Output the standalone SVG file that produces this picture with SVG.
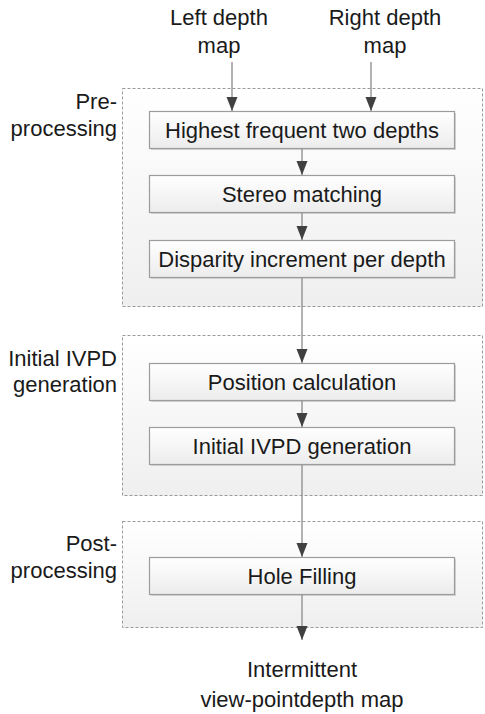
<svg xmlns="http://www.w3.org/2000/svg" width="485" height="714" viewBox="0 0 485 714">
<style>
text{font-family:"Liberation Sans",Arial,sans-serif;font-size:22px;fill:#1a1a1a}
.c{text-anchor:middle}
.r{text-anchor:end}
.grp{fill:url(#gg);stroke:#9a9a9a;stroke-width:1;stroke-dasharray:3,2}
.box{fill:url(#bg);stroke:#9c9c9c;stroke-width:1.2}
.sh{fill:#d4d4d4}
.ln{stroke:#8a8a8a;stroke-width:1.3;fill:none;marker-end:url(#ah)}
</style>
<defs>
<linearGradient id="gg" x1="0" y1="0" x2="0" y2="1"><stop offset="0" stop-color="#ffffff"/><stop offset="1" stop-color="#efefef"/></linearGradient>
<linearGradient id="bg" x1="0" y1="0" x2="0" y2="1"><stop offset="0" stop-color="#ffffff"/><stop offset="1" stop-color="#ececec"/></linearGradient>
<marker id="ah" markerUnits="userSpaceOnUse" markerWidth="14" markerHeight="12" refX="14" refY="5.5" orient="auto"><path d="M0,0 L14,5.5 L0,11 Z" fill="#404040"/></marker>
</defs>
<rect width="485" height="714" fill="#ffffff"/>
<g id="group-pre"><rect class="grp" x="122.5" y="88.5" width="360" height="218"/><text class="r" x="117" y="109">Pre-</text><text class="r" x="117" y="136">processing</text></g>
<g id="group-ivpd"><rect class="grp" x="122.5" y="335.5" width="360" height="160"/><text class="r" x="117" y="366">Initial IVPD</text><text class="r" x="117" y="392">generation</text></g>
<g id="group-post"><rect class="grp" x="122.5" y="521.5" width="360" height="106"/><text class="r" x="117" y="551">Post-</text><text class="r" x="117" y="578">processing</text></g>
<g id="in-left"><text class="c" x="219" y="25">Left depth</text><text class="c" x="219" y="53">map</text></g>
<g id="in-right"><text class="c" x="385" y="25">Right depth</text><text class="c" x="385" y="53">map</text></g>
<g id="n1"><rect class="sh" x="151" y="113" width="305" height="37"/><rect class="box" x="149.5" y="111.5" width="305" height="37"/><text class="c" x="302" y="137.5">Highest frequent two depths</text></g>
<g id="n2"><rect class="sh" x="151" y="177" width="305" height="37"/><rect class="box" x="149.5" y="175.5" width="305" height="37"/><text class="c" x="302" y="201.5">Stereo matching</text></g>
<g id="n3"><rect class="sh" x="151" y="242" width="305" height="37"/><rect class="box" x="149.5" y="240.5" width="305" height="37"/><text class="c" x="302" y="266.5">Disparity increment per depth</text></g>
<g id="n4"><rect class="sh" x="151" y="365" width="305" height="37"/><rect class="box" x="149.5" y="363.5" width="305" height="37"/><text class="c" x="302" y="389.5">Position calculation</text></g>
<g id="n5"><rect class="sh" x="151" y="429" width="305" height="37"/><rect class="box" x="149.5" y="427.5" width="305" height="37"/><text class="c" x="302" y="453.5">Initial IVPD generation</text></g>
<g id="n6"><rect class="sh" x="151" y="559" width="305" height="37"/><rect class="box" x="149.5" y="557.5" width="305" height="37"/><text class="c" x="302" y="583.5">Hole Filling</text></g>
<g id="out"><text class="c" x="302" y="677">Intermittent</text><text class="c" x="302" y="707">view-pointdepth map</text></g>
<g id="connectors">
<path class="ln" d="M232,62 V111"/>
<path class="ln" d="M371,62 V111"/>
<path class="ln" d="M302,149 V175"/>
<path class="ln" d="M302,213 V240"/>
<path class="ln" d="M302,278 V363"/>
<path class="ln" d="M302,401 V427"/>
<path class="ln" d="M302,465 V557"/>
<path class="ln" d="M302,595 V640"/>
</g>
</svg>
